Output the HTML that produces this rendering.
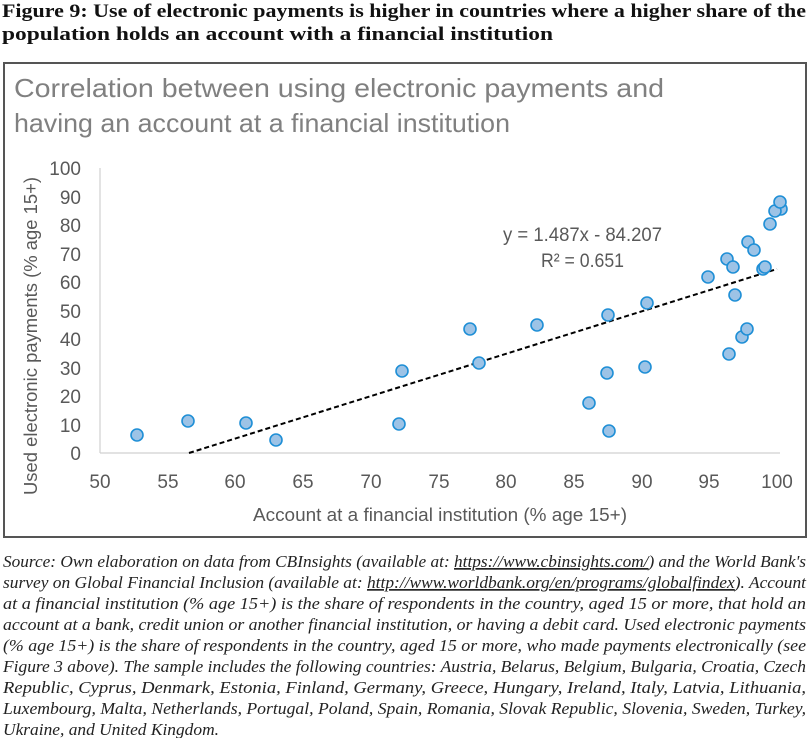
<!DOCTYPE html>
<html><head><meta charset="utf-8"><style>
body{margin:0;width:810px;height:738px;background:#fff;overflow:hidden;position:relative;font-family:"Liberation Serif",serif}
.box{position:absolute;left:3px;top:62px;width:800px;height:472px;border:2px solid #555}
</style></head><body>
<div class="box"></div>
<svg width="810" height="738" style="position:absolute;left:0;top:0" font-family="Liberation Sans, sans-serif">
<g font-family="Liberation Serif, serif" font-weight="bold" font-size="18.5" fill="#111">
<text x="2" y="17" textLength="804" lengthAdjust="spacingAndGlyphs">Figure 9: Use of electronic payments is higher in countries where a higher share of the</text>
<text x="2" y="40" textLength="551" lengthAdjust="spacingAndGlyphs">population holds an account with a financial institution</text>
</g>
<text x="14" y="97" font-size="26" fill="#808080" textLength="650" lengthAdjust="spacingAndGlyphs">Correlation between using electronic payments and</text>
<text x="14" y="132" font-size="26" fill="#808080" textLength="496" lengthAdjust="spacingAndGlyphs">having an account at a financial institution</text>
<line x1="100" y1="168" x2="100" y2="453" stroke="#d0d0d0" stroke-width="1.2"/>
<line x1="100" y1="453" x2="780" y2="453" stroke="#d0d0d0" stroke-width="1.2"/>
<g font-size="19" fill="#595959" text-anchor="end">
<text x="81" y="460">0</text><text x="81" y="432">10</text><text x="81" y="403">20</text><text x="81" y="375">30</text><text x="81" y="346">40</text><text x="81" y="318">50</text><text x="81" y="289">60</text><text x="81" y="261">70</text><text x="81" y="232">80</text><text x="81" y="204">90</text><text x="81" y="175">100</text>
</g>
<g font-size="19" fill="#595959" text-anchor="middle">
<text x="100" y="488">50</text><text x="168" y="488">55</text><text x="235" y="488">60</text><text x="303" y="488">65</text><text x="371" y="488">70</text><text x="439" y="488">75</text><text x="506" y="488">80</text><text x="574" y="488">85</text><text x="642" y="488">90</text><text x="709" y="488">95</text><text x="777" y="488">100</text>
</g>
<text x="253" y="521" font-size="18" fill="#595959" textLength="374" lengthAdjust="spacingAndGlyphs">Account at a financial institution (% age 15+)</text>
<text transform="translate(37,495) rotate(-90)" font-size="18" fill="#595959" textLength="318" lengthAdjust="spacingAndGlyphs">Used electronic payments (% age 15+)</text>
<text x="503" y="241" font-size="19" fill="#595959" textLength="159" lengthAdjust="spacingAndGlyphs">y = 1.487x - 84.207</text>
<text x="541" y="267" font-size="19" fill="#595959" textLength="83" lengthAdjust="spacingAndGlyphs">R² = 0.651</text>
<line x1="189" y1="453" x2="777" y2="269" stroke="#000" stroke-width="2" stroke-dasharray="5,3"/>
<g fill="#9dc3e6" stroke="#1f8fd6" stroke-width="1.6">
<circle cx="137" cy="435" r="6"/><circle cx="188" cy="421" r="6"/><circle cx="246" cy="423" r="6"/><circle cx="276" cy="440" r="6"/>
<circle cx="399" cy="424" r="6"/><circle cx="402" cy="371" r="6"/><circle cx="470" cy="329" r="6"/><circle cx="479" cy="363" r="6"/>
<circle cx="537" cy="325" r="6"/><circle cx="589" cy="403" r="6"/><circle cx="608" cy="315" r="6"/><circle cx="607" cy="373" r="6"/><circle cx="609" cy="431" r="6"/>
<circle cx="647" cy="303" r="6"/><circle cx="645" cy="367" r="6"/><circle cx="708" cy="277" r="6"/>
<circle cx="729" cy="354" r="6"/><circle cx="742" cy="337" r="6"/><circle cx="747" cy="329" r="6"/><circle cx="735" cy="295" r="6"/>
<circle cx="727" cy="259" r="6"/><circle cx="733" cy="267" r="6"/><circle cx="763" cy="269" r="6"/><circle cx="765" cy="267" r="6"/>
<circle cx="748" cy="242" r="6"/><circle cx="754" cy="250" r="6"/><circle cx="770" cy="224" r="6"/>
<circle cx="781" cy="209" r="6"/><circle cx="775" cy="211" r="6"/><circle cx="780" cy="202" r="6"/>
</g>
<g font-family="Liberation Serif, serif" font-style="italic" font-size="17" fill="#222">
<text x="3" y="567" textLength="803" lengthAdjust="spacingAndGlyphs">Source: Own elaboration on data from CBInsights (available at: <tspan text-decoration="underline">https://www.cbinsights.com/</tspan>) and the World Bank's</text>
<text x="3" y="588" textLength="803" lengthAdjust="spacingAndGlyphs">survey on Global Financial Inclusion (available at: <tspan text-decoration="underline">http://www.worldbank.org/en/programs/globalfindex</tspan>). Account</text>
<text x="3" y="609" textLength="803" lengthAdjust="spacingAndGlyphs">at a financial institution (% age 15+) is the share of respondents in the country, aged 15 or more, that hold an</text>
<text x="3" y="630" textLength="803" lengthAdjust="spacingAndGlyphs">account at a bank, credit union or another financial institution, or having a debit card. Used electronic payments</text>
<text x="3" y="651" textLength="803" lengthAdjust="spacingAndGlyphs">(% age 15+) is the share of respondents in the country, aged 15 or more, who made payments electronically (see</text>
<text x="3" y="672" textLength="803" lengthAdjust="spacingAndGlyphs">Figure 3 above). The sample includes the following countries: Austria, Belarus, Belgium, Bulgaria, Croatia, Czech</text>
<text x="3" y="693" textLength="803" lengthAdjust="spacingAndGlyphs">Republic, Cyprus, Denmark, Estonia, Finland, Germany, Greece, Hungary, Ireland, Italy, Latvia, Lithuania,</text>
<text x="3" y="714" textLength="803" lengthAdjust="spacingAndGlyphs">Luxembourg, Malta, Netherlands, Portugal, Poland, Spain, Romania, Slovak Republic, Slovenia, Sweden, Turkey,</text>
<text x="3" y="735" textLength="216" lengthAdjust="spacingAndGlyphs">Ukraine, and United Kingdom.</text>
</g>
</svg>
</body></html>
